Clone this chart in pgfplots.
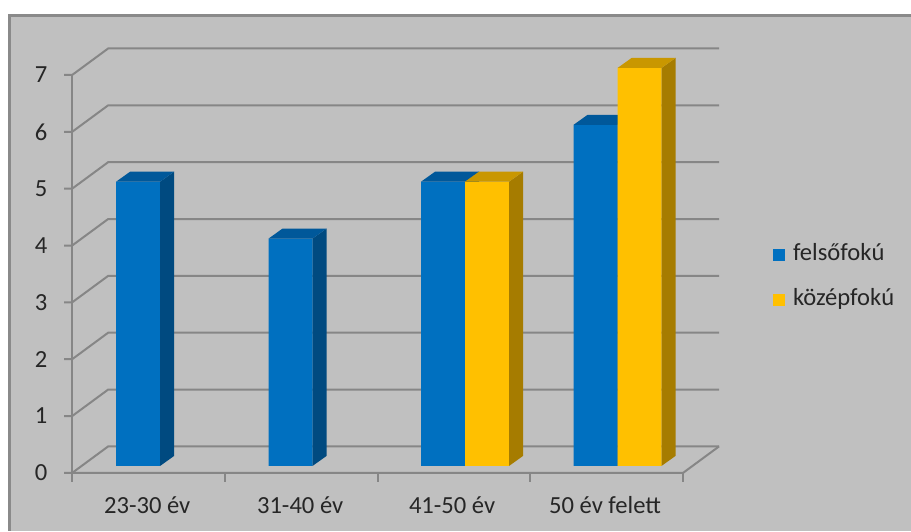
\documentclass[border=0pt]{standalone}
\usepackage{fontspec}
\setmainfont{Carlito}
\usepackage{pgfplots}
\pgfplotsset{compat=1.18}
\definecolor{bgc}{HTML}{C0C0C0}
\definecolor{gridc}{HTML}{868686}
\definecolor{borderc}{HTML}{8A8A8A}
\definecolor{bfront}{HTML}{0070C0}
\definecolor{bside}{HTML}{004A80}
\definecolor{btop}{HTML}{00589A}
\definecolor{yfront}{HTML}{FFC000}
\definecolor{yside}{HTML}{A67C00}
\definecolor{ytop}{HTML}{C99700}
\definecolor{txt}{HTML}{262626}
% #1 left edge (px), #2 value, #3 front, #4 side, #5 top colour
\newcommand{\colbar}[5]{%
 \pgfmathsetmacro\xa{#1}%
 \pgfmathsetmacro\xb{#1+44}%
 \pgfmathsetmacro\xc{#1+58}%
 \pgfmathsetmacro\xd{#1+14}%
 \pgfmathsetmacro\yb{0.123}%
 \pgfmathsetmacro\yt{0.123+#2}%
 \pgfmathsetmacro\ybb{0.299}%
 \pgfmathsetmacro\ytt{0.299+#2}%
 \edef\tmp{%
 \noexpand\addplot[forget plot, mark=none, fill=#3, draw=none] coordinates {(\xa,\yb) (\xb,\yb) (\xb,\yt) (\xa,\yt) (\xa,\yb)};
 \noexpand\addplot[forget plot, mark=none, fill=#4, draw=none] coordinates {(\xb,\yb) (\xc,\ybb) (\xc,\ytt) (\xb,\yt) (\xb,\yb)};
 \noexpand\addplot[forget plot, mark=none, fill=#5, draw=none] coordinates {(\xa,\yt) (\xb,\yt) (\xc,\ytt) (\xd,\ytt) (\xa,\yt)};
 }\tmp
}
\begin{document}
\begin{tikzpicture}
\begin{axis}[
 scale only axis,
 axis on top,
 width=455.5pt, height=265.5pt,
 xmin=0, xmax=911, ymin=-1.0201, ymax=8.3187,
 axis line style={draw=none},
 major tick length=0pt,
 xtick pos=bottom, ytick pos=left,
 ytick={0,1,2,3,4,5,6,7},
 yticklabels={0,1,2,3,4,5,6,7},
 xtick={147,300,452,605},
 xticklabels={23-30 év,31-40 év,41-50 év,50 év felett},
 tick label style={font=\fontsize{12.3}{14}\selectfont, text=txt},
 yticklabel style={anchor=center, xshift=20.5pt},
 xticklabel style={anchor=center, yshift=13pt},
 legend style={at={(axis cs:773,3.438)}, anchor=west, draw=none, fill=none,
   inner sep=0pt, outer sep=0pt, row sep=11.5pt, column sep=4pt,
   font=\fontsize{12.3}{14}\selectfont, text=txt,
   nodes={inner sep=0pt, text height=8.5pt, text depth=2.5pt}},
 legend cell align=left,
 legend image code/.code={\fill[#1, draw=none] (0pt,-3pt) rectangle (6pt,3pt);},
]
% background and border
\fill[bgc] (axis cs:8,-1.2) rectangle (axis cs:930,8.072);
\draw[borderc, line width=1.5pt] (axis cs:9.5,-1.2) -- (axis cs:9.5,8.046) -- (axis cs:930,8.046);
% walls and floor
\pgfplotsinvokeforeach{0,1,2,3,4,5,6,7}{
 \draw[gridc, line width=1pt] (axis cs:64,#1) -- (axis cs:72,#1) -- ([yshift=13.25pt]axis cs:108,#1) -- ([yshift=13.25pt]axis cs:719,#1);
}
\draw[gridc, line width=1pt] (axis cs:72,-0.158) -- (axis cs:72,7);
\draw[gridc, line width=1pt] (axis cs:72,0) -- (axis cs:683,0) -- ([yshift=13.25pt]axis cs:719,0);
\pgfplotsinvokeforeach{225,377.5,530,683}{
 \draw[gridc, line width=1pt] (axis cs:#1,0) -- (axis cs:#1,-0.158);
}
% bars: felsőfokú 5,4,5,6 ; középfokú -,-,5,7
\colbar{116}{5}{bfront}{bside}{btop}
\colbar{268.5}{4}{bfront}{bside}{btop}
\colbar{421}{5}{bfront}{bside}{btop}
\colbar{465}{5}{yfront}{yside}{ytop}
\colbar{573.5}{6}{bfront}{bside}{btop}
\colbar{617.5}{7}{yfront}{yside}{ytop}
\addlegendimage{fill=bfront}
\addlegendentry{felsőfokú}
\addlegendimage{fill=yfront}
\addlegendentry{középfokú}
\end{axis}
\end{tikzpicture}
\end{document}
